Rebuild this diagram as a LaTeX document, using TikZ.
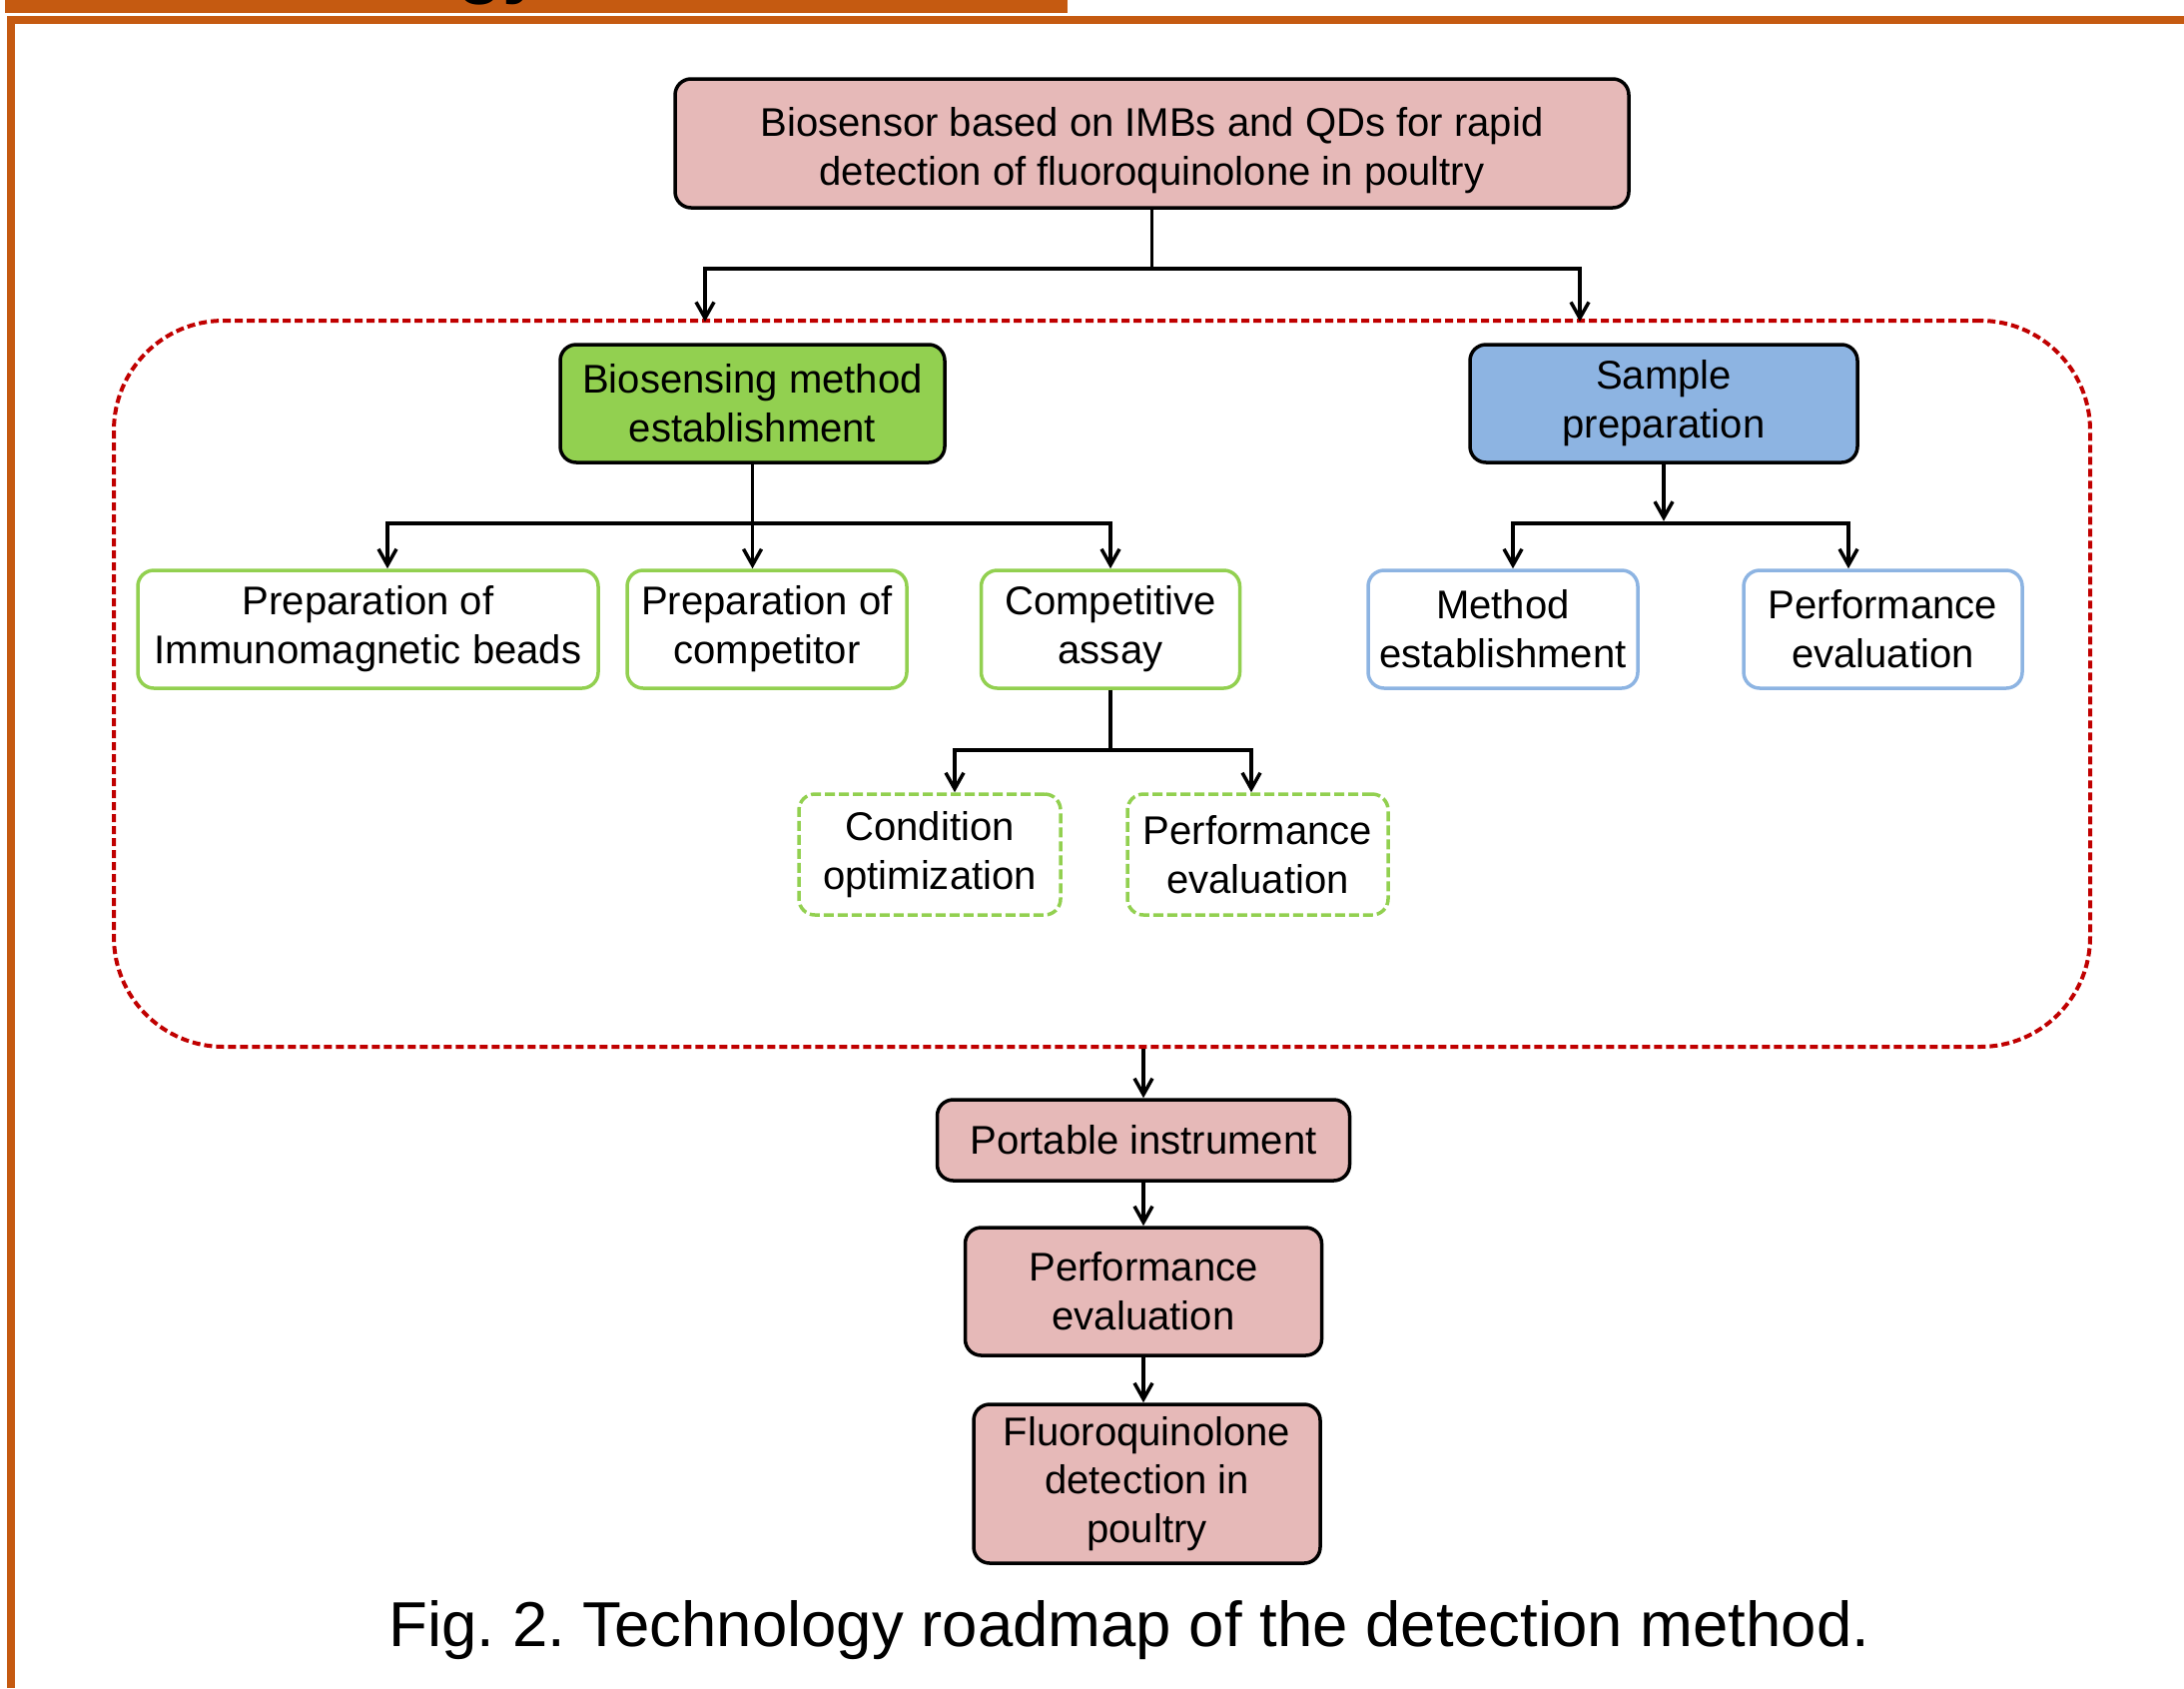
\documentclass[tikz,border=0pt]{standalone}
\usepackage{fontspec}
\setmainfont{Liberation Sans}
\usetikzlibrary{arrows.meta}
\frenchspacing

\definecolor{pinkbox}{HTML}{E6B9B8}
\definecolor{greenbox}{HTML}{92D050}
\definecolor{bluebox}{HTML}{8DB4E2}
\definecolor{framered}{HTML}{C00000}
\definecolor{posterorange}{HTML}{C55A11}

\begin{document}
\begin{tikzpicture}[x=0.1mm, y=-0.1mm,
            box/.style={draw=black, line width=0.35mm, rounded corners=1.6mm, align=center, inner sep=0pt, font=\fontsize{11.4}{13.9}\selectfont},
            mainbox/.style={box, fill=pinkbox},
            greenhead/.style={box, fill=greenbox},
            bluehead/.style={box, fill=bluebox},
            greenitem/.style={box, draw=greenbox, fill=white},
            blueitem/.style={box, draw=bluebox, fill=white},
            dashitem/.style={greenitem, dash pattern=on 1mm off 0.4mm},
            link/.style={draw=black, line width=0.35mm},
            arr/.style={link, -{Straight Barb[length=1.6mm, width=1.8mm]}}]
            \useasboundingbox (0,0) rectangle (2187,1690);

            \fill[posterorange] (5,0) rectangle (1069,13);
            \begin{scope}
                \clip (5,0) rectangle (1069,13);
                \node[anchor=base east, inner sep=0pt, font=\fontsize{21}{25}\selectfont\bfseries] (title) at (545,-10) {Technology};
            \end{scope}
            \draw[posterorange, line width=0.8mm] (11,1690) -- (11,19.5) -- (2187,19.5);

            \node[draw=framered, line width=0.4mm, dash pattern=on 0.8mm off 0.4mm, rounded corners=11mm, minimum width=197.9mm, minimum height=72.7mm, inner sep=0pt] (frame) at (1103.5,684.5) {};

            \node[mainbox, minimum width=95.5mm, minimum height=12.9mm] (top) at (1153.5,143.5) {};
            \node[align=center, inner sep=0pt, font=\fontsize{11.4}{13.9}\selectfont] (toptext) at ([yshift=-0.7mm]top.center) {Biosensor based on IMBs and QDs for rapid\\detection of fluoroquinolone in poultry};

            \node[greenhead, minimum width=38.5mm, minimum height=11.8mm] (bio) at (753.5,404) {Biosensing method\\establishment};
            \node[bluehead, minimum width=38.8mm, minimum height=11.8mm] (sample) at (1666,404) {Sample\\preparation};

            \node[greenitem, minimum width=46.1mm, minimum height=11.8mm] (prepA) at (368.5,630) {Preparation of\\Immunomagnetic beads};
            \node[greenitem, minimum width=28mm, minimum height=11.8mm] (prepB) at (768,630) {Preparation of\\competitor};
            \node[greenitem, minimum width=25.9mm, minimum height=11.8mm] (assay) at (1112,630) {Competitive\\assay};
            \node[blueitem, minimum width=27mm, minimum height=11.8mm] (meth) at (1505,630) {Method\\establishment};
            \node[blueitem, minimum width=27.9mm, minimum height=11.8mm] (sperf) at (1885.5,630) {Performance\\evaluation};

            \node[dashitem, minimum width=26.2mm, minimum height=12.1mm] (cond) at (931,855.5) {Condition\\optimization};
            \node[dashitem, minimum width=26.1mm, minimum height=12.1mm] (aperf) at (1259.5,855.5) {Performance\\evaluation};

            \node[mainbox, minimum width=41.3mm, minimum height=8.1mm] (port) at (1145,1141.5) {Portable instrument};
            \node[mainbox, minimum width=35.7mm, minimum height=12.8mm] (perf) at (1145,1293) {Performance\\evaluation};
            \node[mainbox, minimum width=34.7mm, minimum height=15.9mm] (fluoro) at (1148.5,1485.5) {Fluoroquinolone\\detection in\\poultry};

            \coordinate (inL) at (706,322);
            \coordinate (inR) at (1582,322);
            \draw[arr] (top.south) -- ++(0,59) -| (inL);
            \draw[arr] (top.south) -- ++(0,59) -| (inR);

            \draw[arr] (bio.south) -- ++(0,59) -| ([xshift=1.95mm]prepA.north);
            \draw[arr] (bio.south) -- ++(0,59) -| (assay.north);
            \draw[arr] (bio.south) -- (bio.south |- prepB.north);

            \draw[arr] (sample.south) -- ++(0,57);
            \draw[arr] (sample.south) ++(0,59) -| ([xshift=1mm]meth.north);
            \draw[arr] (sample.south) ++(0,59) -| ([xshift=-3.45mm]sperf.north);

            \draw[arr] (assay.south) -- ++(0,60) -| ([xshift=2.5mm]cond.north);
            \draw[arr] (assay.south) -- ++(0,60) -| ([xshift=-0.65mm]aperf.north);

            \draw[arr] (port.north |- frame.south) -- (port.north);
            \draw[arr] (port.south) -- (perf.north);
            \draw[arr] (perf.south) -- (perf.south |- fluoro.north);

            \node[font=\fontsize{18.07}{21}\selectfont] (caption) at (1131,1632) {Fig. 2. Technology roadmap of the detection method.};
        \end{tikzpicture}
\end{document}
